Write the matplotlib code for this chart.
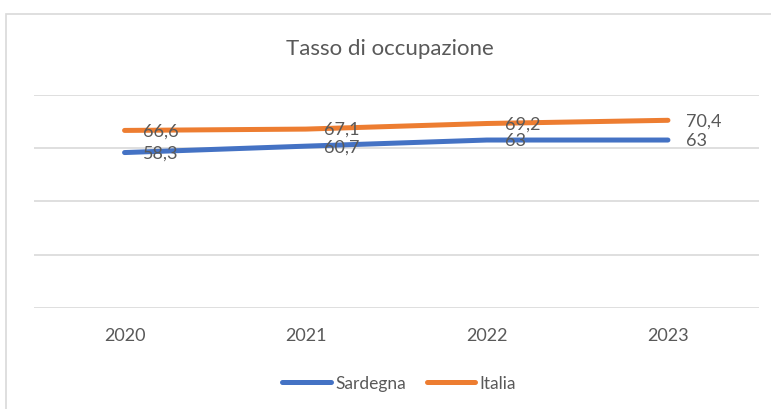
import matplotlib.pyplot as plt
from matplotlib.patches import Rectangle

# data
years = ['2020', '2021', '2022', '2023']
sardegna = [58.3, 60.7, 63, 63]
italia = [66.6, 67.1, 69.2, 70.4]
labels_sardegna = ['58,3', '60,7', '63', '63']
labels_italia = ['66,6', '67,1', '69,2', '70,4']

plt.rcParams['font.family'] = ['Lato', 'DejaVu Sans']
text_color = '#595959'
grid_color = '#d9d9d9'
blue = '#4472C4'
orange = '#ED7D31'

fig = plt.figure(figsize=(7.71, 4.10), dpi=100)

# chart frame (only top and left edges are inside the picture)
W, H = 771, 410
fig.patches.append(Rectangle((6 / W, -0.1), 1.2, (H - 15) / H + 0.1,
                             transform=fig.transFigure, fill=False,
                             edgecolor=grid_color, linewidth=1.2))

ax = fig.add_axes([34 / W, 101 / H, (758.5 - 34) / W, (309 - 95.7) / H])
x = list(range(len(years)))

ax.plot(x, sardegna, color=blue, linewidth=3.6, solid_capstyle='round', label='Sardegna', zorder=3)
ax.plot(x, italia, color=orange, linewidth=3.6, solid_capstyle='round', label='Italia', zorder=3)

for xi, v, t in zip(x, sardegna, labels_sardegna):
    ax.annotate(t, (xi, v), xytext=(13, 0), textcoords='offset points',
                ha='left', va='center', fontsize=13, color=text_color, zorder=4)
for xi, v, t in zip(x, italia, labels_italia):
    ax.annotate(t, (xi, v), xytext=(13, 0), textcoords='offset points',
                ha='left', va='center', fontsize=13, color=text_color, zorder=4)

ax.set_xlim(-0.5, 3.5)
ax.set_ylim(0, 80)
ax.set_yticks([0, 20, 40, 60, 80])
ax.set_yticklabels([])
ax.set_xticks(x)
ax.set_xticklabels(years, fontsize=13, color=text_color)
ax.tick_params(axis='both', length=0)
ax.tick_params(axis='x', pad=14)
ax.grid(axis='y', color=grid_color, linewidth=1.2)
ax.set_axisbelow(True)
for s in ax.spines.values():
    s.set_visible(False)

fig.text(390 / W, 1 - 49 / H, 'Tasso di occupazione', ha='center', va='center',
         fontsize=16, color=text_color)

leg = fig.legend(loc='center', bbox_to_anchor=(399 / W, 1 - 384 / H), ncol=2,
                 frameon=False, fontsize=12.5, handlelength=2.8, handletextpad=0.25,
                 columnspacing=1.2)
for t in leg.get_texts():
    t.set_color(text_color)

fig.savefig('out.png', dpi=100)
